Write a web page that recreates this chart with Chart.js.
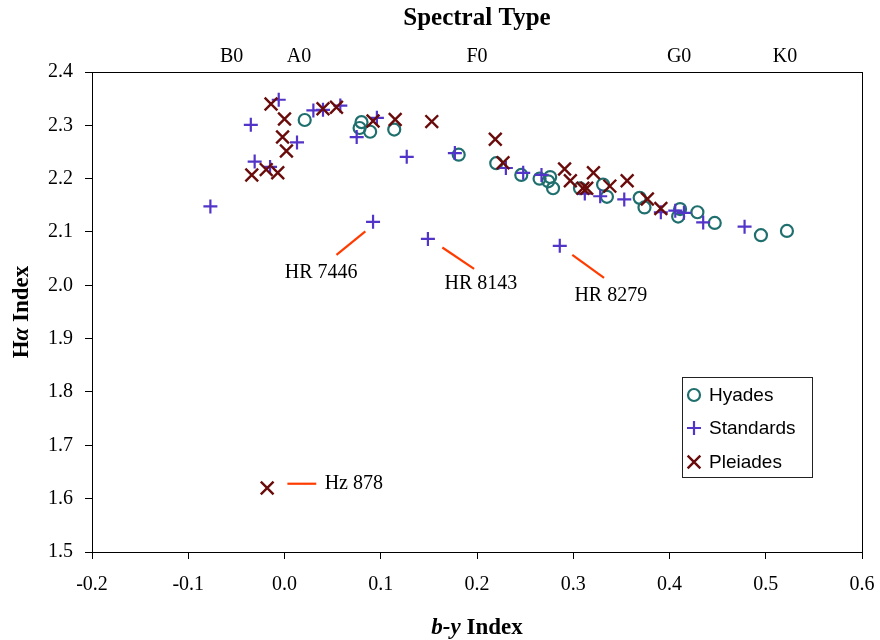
<!DOCTYPE html>
<html>
<head>
<meta charset="utf-8">
<script src="https://cdn.jsdelivr.net/npm/chart.js@4.4.1/dist/chart.umd.min.js"></script>
<style>
  html, body { margin: 0; padding: 0; background: #fff; }
</style>
</head>
<body>
<canvas id="myChart" width="880" height="640"></canvas>
<script>
// b-y index (x) and H-alpha index (y) for each group
const hyadesX = [0.021, 0.080, 0.078, 0.089, 0.114, 0.181, 0.220, 0.246, 0.265, 0.276, 0.274, 0.279,
  0.307, 0.331, 0.335, 0.369, 0.374, 0.411, 0.409, 0.429, 0.447, 0.495, 0.522];
const hyadesY = [2.310, 2.306, 2.295, 2.288, 2.292, 2.245, 2.229, 2.207, 2.200, 2.203, 2.195, 2.182,
  2.182, 2.189, 2.166, 2.164, 2.146, 2.143, 2.129, 2.137, 2.117, 2.094, 2.102];

const standardsX = [-0.006, -0.035, -0.031, -0.015, 0.013, -0.077, 0.030, 0.040, 0.058, 0.075, 0.096,
  0.127, 0.177, 0.230, 0.248, 0.267, 0.312, 0.328, 0.353, 0.391, 0.406, 0.415, 0.435, 0.478,
  0.149, 0.286, 0.092];
const standardsY = [2.348, 2.301, 2.232, 2.222, 2.268, 2.148, 2.328, 2.329, 2.337, 2.278, 2.314,
  2.241, 2.248, 2.220, 2.211, 2.207, 2.172, 2.167, 2.161, 2.137, 2.140, 2.136, 2.118, 2.110,
  2.087, 2.074, 2.119];

const pleiadesX = [-0.014, 0.000, -0.002, 0.002, -0.034, -0.019, -0.007, 0.040, 0.054, 0.092, 0.115,
  0.153, 0.219, 0.227, 0.291, 0.297, 0.310, 0.314, 0.321, 0.338, 0.356, 0.377, 0.391, -0.018];
const pleiadesY = [2.340, 2.312, 2.278, 2.252, 2.207, 2.217, 2.211, 2.331, 2.334, 2.308, 2.311,
  2.307, 2.274, 2.230, 2.218, 2.196, 2.182, 2.182, 2.211, 2.186, 2.196, 2.162, 2.144, 1.620];

// spectral types on the top axis
const spectralLabels = ["B0", "A0", "F0", "G0", "K0"];
const spectralPos = [-0.055, 0.015, 0.200, 0.410, 0.520];

// labelled stars: leader line (data units) and label anchor
const noteText = ["HR 7446", "HR 8143", "HR 8279", "Hz 878"];
const noteLine = [[0.054, 2.057, 0.084, 2.101], [0.164, 2.071, 0.197, 2.031],
  [0.299, 2.057, 0.332, 2.014], [0.003, 1.628, 0.033, 1.628]];
const noteAt = [[0.038, 2.024], [0.204, 2.003], [0.339, 1.980], [0.072, 1.628]];

function toPoints(xs, ys) {
  return xs.map((x, i) => ({ x: x, y: ys[i] }));
}

const serif = "'Liberation Serif', 'Times New Roman', serif";
const sans = "'Liberation Sans', Arial, sans-serif";

const data = {
  datasets: [
    {
      label: "Hyades",
      data: toPoints(hyadesX, hyadesY),
      pointStyle: "circle",
      pointRadius: 6,
      borderColor: "#1f6f6e",
      backgroundColor: "rgba(0,0,0,0)",
      borderWidth: 2.2,
      order: 2,
    },
    {
      label: "Standards",
      data: toPoints(standardsX, standardsY),
      pointStyle: "cross",
      pointRadius: 7,
      borderColor: "#5234c8",
      backgroundColor: "#5234c8",
      borderWidth: 2.2,
      order: 1,
    },
    {
      label: "Pleiades",
      data: toPoints(pleiadesX, pleiadesY),
      pointStyle: "crossRot",
      pointRadius: 9,
      borderColor: "#6a0b0b",
      backgroundColor: "#6a0b0b",
      borderWidth: 2.4,
      order: 0,
    },
  ],
};

// frame, titles, notes and legend
const extras = {
  id: "extras",
  beforeDatasetsDraw(chart) {
    const ctx = chart.ctx;
    const a = chart.chartArea;
    ctx.save();
    ctx.strokeStyle = "#000";
    ctx.lineWidth = 1;
    ctx.strokeRect(Math.round(a.left) + 0.5, Math.round(a.top) + 0.5,
      Math.round(a.right - a.left), Math.round(a.bottom - a.top));
    ctx.restore();
  },
  afterDraw(chart) {
    const ctx = chart.ctx;
    const a = chart.chartArea;
    const sx = chart.scales.x;
    const sy = chart.scales.y;
    const cx = (a.left + a.right) / 2;
    const cy = (a.top + a.bottom) / 2;

    function mixed(parts, x, y) {
      let w = 0;
      parts.forEach((p) => { ctx.font = p[1]; w += ctx.measureText(p[0]).width; });
      let px = x - w / 2;
      parts.forEach((p) => {
        ctx.font = p[1];
        ctx.fillText(p[0], px, y);
        px += ctx.measureText(p[0]).width;
      });
    }

    ctx.save();
    ctx.fillStyle = "#000";
    ctx.textBaseline = "middle";
    ctx.textAlign = "left";
    const b = "bold 23px " + serif;
    const bi = "italic bold 23px " + serif;
    mixed([["Spectral Type", "bold 25px " + serif]], cx, 19);
    mixed([["b-y", bi], [" Index", b]], cx, 628);
    ctx.save();
    ctx.translate(22, cy);
    ctx.rotate(-Math.PI / 2);
    mixed([["H", b], ["\u03b1", bi], [" Index", b]], 0, 0);
    ctx.restore();

    // notes
    ctx.strokeStyle = "#ff3b00";
    ctx.lineWidth = 2.2;
    ctx.font = "20px " + serif;
    ctx.textAlign = "center";
    noteLine.forEach((l, i) => {
      ctx.beginPath();
      ctx.moveTo(sx.getPixelForValue(l[0]), sy.getPixelForValue(l[1]));
      ctx.lineTo(sx.getPixelForValue(l[2]), sy.getPixelForValue(l[3]));
      ctx.stroke();
      ctx.fillText(noteText[i], sx.getPixelForValue(noteAt[i][0]), sy.getPixelForValue(noteAt[i][1]));
    });

    // legend box
    const lx = a.right - 180, ly = a.bottom - 175, lw = 130, lh = 100;
    ctx.fillStyle = "#fff";
    ctx.fillRect(lx, ly, lw, lh);
    ctx.strokeStyle = "#222";
    ctx.lineWidth = 1;
    ctx.strokeRect(Math.round(lx) + 0.5, Math.round(ly) + 0.5, lw, lh);
    ctx.font = "19px " + sans;
    ctx.textAlign = "left";
    ctx.fillStyle = "#000";
    const order = [0, 1, 2];
    const rowY = [18, 51, 85];
    order.forEach((di, k) => {
      const ds = chart.data.datasets[di];
      ctx.strokeStyle = ds.borderColor;
      ctx.fillStyle = ds.backgroundColor;
      ctx.lineWidth = ds.borderWidth;
      Chart.helpers.drawPoint(ctx, {
        pointStyle: ds.pointStyle, radius: ds.pointRadius, rotation: 0, borderWidth: ds.borderWidth,
      }, lx + 12, ly + rowY[k]);
      ctx.fillStyle = "#000";
      ctx.fillText(ds.label, lx + 27, ly + rowY[k] + 1);
    });
    ctx.restore();
  },
};

const tickFont = { family: serif, size: 20 };

const config = {
  type: "scatter",
  data,
  plugins: [extras],
  options: {
    responsive: false,
    animation: false,
    devicePixelRatio: 1,
    layout: { padding: { left: 0, right: 18, top: 0, bottom: 0 } },
    plugins: { legend: { display: false }, tooltip: { enabled: false } },
    scales: {
      x: {
        type: "linear",
        position: "bottom",
        min: -0.2,
        max: 0.6,
        border: { display: false },
        grid: { drawOnChartArea: false, drawTicks: true, tickLength: 7, color: "#000" },
        ticks: {
          stepSize: 0.1,
          color: "#000",
          font: tickFont,
          padding: 14,
          maxRotation: 0,
          callback: (v) => Number(v).toFixed(1),
        },
        afterFit: (s) => { s.height = 88; s.paddingRight = 0; s.paddingLeft = 0; },
      },
      x2: {
        type: "linear",
        position: "top",
        min: -0.2,
        max: 0.6,
        border: { display: false },
        grid: { display: false, tickLength: 0 },
        afterBuildTicks: (s) => { s.ticks = spectralPos.map((v) => ({ value: v })); },
        ticks: {
          color: "#000",
          font: tickFont,
          padding: 3,
          maxRotation: 0,
          autoSkip: false,
          callback: (v, i) => spectralLabels[i],
        },
        afterFit: (s) => { s.height = 72; s.paddingRight = 0; s.paddingLeft = 0; },
      },
      y: {
        type: "linear",
        min: 1.5,
        max: 2.4,
        border: { display: false },
        grid: { drawOnChartArea: false, drawTicks: true, tickLength: 7, color: "#000" },
        ticks: {
          stepSize: 0.1,
          color: "#000",
          font: tickFont,
          padding: 12,
          callback: (v) => Number(v).toFixed(1),
        },
        afterFit: (s) => { s.width = 92; },
      },
    },
  },
};

const myChart = new Chart(document.getElementById("myChart"), config);
</script>
</body>
</html>
